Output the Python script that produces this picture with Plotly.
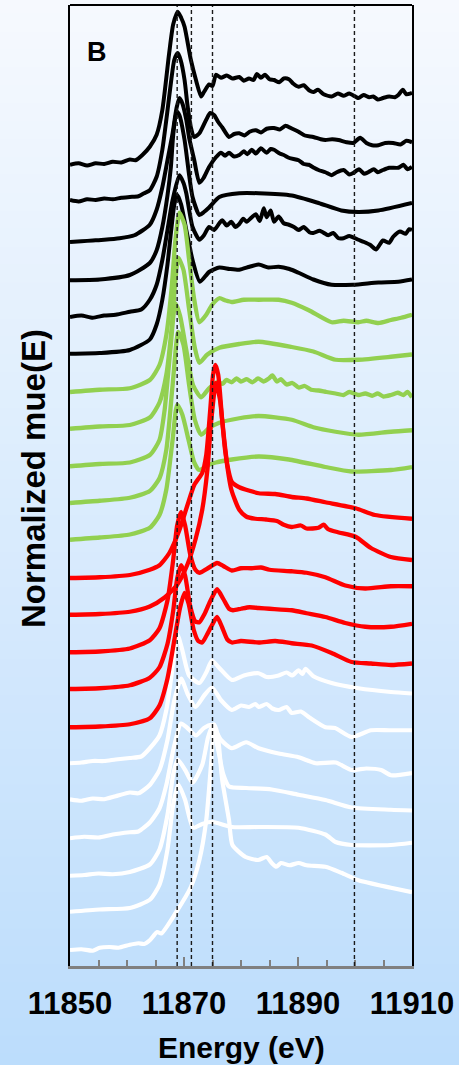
import plotly.graph_objects as go

# ---------------- data ----------------
# Each spectrum: (energy in eV, normalized mu(E)); stacked with a vertical offset.
K1 = [(11850,0.00),(11851.5,0.02),(11853,-0.01),(11854.5,0.02),(11856,0.01),(11857.5,0.04),(11859,0.03),
      (11860.5,0.07),(11861.5,0.06),(11862.7,0.13),(11864.0,0.24),(11865.2,0.40),(11866.2,0.73),(11867.4,1.49),
      (11868.1,1.87),(11868.9,2.04),(11869.5,1.96),(11870.1,1.84),(11871.2,1.40),(11872.1,1.13),(11873.0,0.91),
      (11873.5,0.97),(11874.4,1.07),(11875.0,1.05),(11875.6,1.20),(11876.5,1.16),(11877.5,1.19),(11878.5,1.15),
      (11879.7,1.17),(11880.5,1.12),(11881.4,1.15),(11882.2,1.13),(11882.8,1.21),(11883.5,1.16),(11884.2,1.20),
      (11885.0,1.14),(11885.8,1.13),(11886.7,1.10),(11887.5,1.15),(11888.4,1.14),(11889.2,1.08),(11890.1,1.04),
      (11891.0,1.06),(11892.0,0.99),(11892.7,0.97),(11893.5,1.00),(11894.5,0.94),(11895.9,0.91),(11897.0,0.95),
      (11898.0,0.92),(11899.0,0.95),(11900.6,0.89),(11901.5,0.93),(11902.5,0.90),(11903.2,0.91),(11904.0,0.87),
      (11904.9,0.89),(11906.0,0.91),(11907.0,0.90),(11907.6,0.93),(11908.4,1.00),(11909.0,0.94),(11910,0.96)]
K2 = [(11850,0.00),(11851.5,-0.02),(11853,0.01),(11854.5,0.00),(11856,0.02),(11857.5,0.01),(11859,0.03),
      (11860.5,0.04),(11862,0.05),(11863,0.09),(11864.0,0.13),(11865.2,0.31),(11866.2,0.67),(11867.0,1.13),
      (11867.7,1.56),(11868.3,1.87),(11868.9,1.96),(11869.4,1.87),(11870.1,1.60),(11870.6,1.27),(11871.2,0.97),
      (11871.8,0.84),(11872.7,0.89),(11873.9,1.07),(11874.6,1.16),(11875.3,1.13),(11876.0,1.04),(11876.7,0.97),
      (11877.9,0.84),(11878.8,0.88),(11879.7,0.89),(11880.6,0.86),(11881.5,0.91),(11882.6,0.93),(11883.5,0.90),
      (11884.5,0.95),(11885.8,0.96),(11886.8,0.94),(11887.8,0.99),(11889.0,0.95),(11890.1,0.91),(11891.2,0.86),
      (11892.7,0.84),(11894.0,0.81),(11894.8,0.80),(11896.0,0.81),(11897.1,0.80),(11898.5,0.77),(11899.7,0.76),
      (11900.9,0.83),(11902.0,0.76),(11903.0,0.73),(11904.1,0.73),(11905.3,0.76),(11906.7,0.76),(11908.0,0.74),
      (11909.0,0.79),(11910,0.77)]
K3 = [(11850,0.00),(11852,0.01),(11854,0.02),(11856,0.03),(11858.7,0.05),(11861.3,0.09),(11864.0,0.23),
      (11865.2,0.43),(11866.2,0.73),(11867.1,1.09),(11868.0,1.45),(11868.7,1.79),(11869.2,1.92),(11869.7,1.85),
      (11870.4,1.63),(11870.9,1.39),(11871.8,1.09),(11872.7,0.79),(11873.4,0.85),(11874.4,1.00),(11875.6,1.13),
      (11876.5,1.19),(11877.2,1.15),(11877.9,1.19),(11878.8,1.14),(11879.7,1.16),(11880.5,1.21),(11881.1,1.17),
      (11881.9,1.23),(11882.6,1.18),(11883.5,1.25),(11884.5,1.19),(11885.2,1.24),(11885.8,1.23),(11886.8,1.18),
      (11887.5,1.16),(11888.5,1.12),(11890.1,1.09),(11891.0,1.04),(11891.9,1.03),(11892.8,0.99),(11893.6,0.96),
      (11894.8,0.93),(11895.9,0.89),(11896.8,0.93),(11898.0,0.96),(11899.0,0.90),(11899.7,0.92),(11900.7,0.97),
      (11901.6,0.91),(11902.3,0.93),(11903.3,0.97),(11904.0,0.93),(11904.9,0.96),(11906.0,0.99),(11907.6,0.99),
      (11908.5,1.03),(11909.2,0.97),(11910,1.00)]
K4 = [(11850,0.00),(11855.2,0.01),(11860.5,0.07),(11864.0,0.23),(11865.2,0.40),(11866.2,0.71),(11867.1,1.13),
      (11867.7,1.51),(11868.1,1.93),(11868.7,2.25),(11869.2,2.20),(11870.1,1.87),(11870.9,1.40),(11871.5,1.11),
      (11872.7,0.87),(11873.5,0.91),(11874.4,0.97),(11876.2,1.11),(11879.7,1.16),(11883.1,1.16),(11888.9,1.13),
      (11893.6,1.03),(11897.6,0.93),(11900.6,0.91),(11904.1,0.93),(11910,1.03)]
K5 = [(11850,0.00),(11852,0.02),(11854,-0.01),(11856,0.02),(11858,0.03),(11860.5,0.07),(11862.5,0.10),
      (11864.0,0.23),(11865.2,0.43),(11866.2,0.76),(11867.1,1.16),(11868.0,1.56),(11869.2,1.89),(11869.9,1.79),
      (11870.4,1.65),(11871.5,1.20),(11872.7,1.03),(11873.5,1.09),(11874.4,1.20),(11875.3,1.16),(11876.2,1.25),
      (11876.7,1.29),(11877.5,1.22),(11878.3,1.27),(11879.0,1.20),(11879.7,1.24),(11880.4,1.31),(11881.0,1.27),
      (11881.9,1.33),(11882.6,1.37),(11883.3,1.28),(11884.0,1.45),(11884.5,1.33),(11885.2,1.42),(11885.8,1.27),
      (11886.6,1.34),(11887.5,1.25),(11888.4,1.23),(11889.3,1.20),(11890.1,1.16),(11891.0,1.20),(11892.0,1.13),
      (11892.7,1.12),(11893.8,1.15),(11895.3,1.09),(11896.2,1.12),(11897.1,1.05),(11898.0,1.05),(11899.0,1.08),
      (11900.6,1.03),(11901.6,1.00),(11902.7,0.96),(11903.7,0.90),(11904.9,1.02),(11906.0,0.99),(11906.7,1.07),
      (11907.9,1.14),(11908.9,1.11),(11909.5,1.17),(11910,1.16)]
K6 = [(11850,0.00),(11855.2,0.01),(11860.5,0.05),(11864.0,0.19),(11865.2,0.39),(11866.2,0.72),(11867.1,1.19),
      (11867.7,1.61),(11868.3,1.99),(11868.8,2.12),(11869.5,1.99),(11870.4,1.65),(11871.5,1.25),(11872.8,0.96),
      (11874.4,1.09),(11876.2,1.15),(11878.0,1.13),(11879.7,1.12),(11881.5,1.16),(11883.1,1.19),(11884.8,1.15),
      (11886.6,1.16),(11888.5,1.13),(11890.1,1.08),(11892.7,0.99),(11895.9,0.92),(11899.7,0.92),(11904.1,0.95),
      (11907.6,0.96),(11910,0.99)]

G1 = [(11850,0.00),(11855.2,0.03),(11860.5,0.05),(11864.0,0.16),(11865.7,0.36),(11866.9,0.76),(11867.8,1.36),
      (11868.5,2.03),(11869.2,2.39),(11870.1,2.23),(11870.9,1.76),(11871.8,1.23),(11872.7,0.93),(11873.9,1.03),
      (11874.9,1.16),(11876.2,1.25),(11877.3,1.22),(11878.4,1.20),(11880.5,1.23),(11883.1,1.23),(11886.6,1.23),
      (11888.9,1.19),(11891.9,1.09),(11895.9,0.93),(11898.0,0.95),(11900.6,0.93),(11902.0,0.95),(11904.1,0.92),
      (11906.3,0.96),(11908.1,0.99),(11910,1.03)]
G2 = [(11850,0.00),(11855.2,0.03),(11860.5,0.05),(11864.0,0.15),(11865.7,0.35),(11866.9,0.72),(11867.8,1.32),
      (11868.5,1.99),(11869.0,2.28),(11869.9,2.12),(11870.9,1.59),(11871.9,1.08),(11872.7,0.88),(11874.1,0.99),
      (11876.2,1.08),(11879.7,1.13),(11883.1,1.16),(11888.9,1.09),(11892.7,1.03),(11896.6,0.92),(11900.6,0.92),
      (11906.3,0.96),(11910,0.99)]
G3 = [(11850,0.00),(11855.2,0.03),(11860.5,0.05),(11864.0,0.15),(11865.7,0.35),(11866.6,0.75),(11867.6,1.55),
      (11868.5,2.17),(11869.3,2.01),(11870.4,1.55),(11871.6,1.08),(11873.0,0.92),(11874.4,1.04),(11875.8,1.12),
      (11876.8,1.10),(11877.4,1.15),(11878.4,1.12),(11879.2,1.17),(11880.0,1.13),(11881.0,1.16),(11882.0,1.12),
      (11883.0,1.17),(11884.0,1.13),(11884.9,1.17),(11885.5,1.21),(11886.3,1.13),(11887.0,1.16),(11888.0,1.09),
      (11889.0,1.11),(11890.1,1.05),(11891.2,1.07),(11892.3,1.02),(11893.6,1.01),(11895.0,0.99),(11896.6,0.97),
      (11898.0,0.95),(11899.0,0.99),(11900.6,0.95),(11901.8,0.97),(11903.0,0.94),(11904.0,0.97),(11905.0,0.93),
      (11906.3,0.95),(11907.5,0.98),(11908.5,0.95),(11909.2,0.99),(11910,0.92)]
G4 = [(11850,0.00),(11855.2,0.03),(11860.5,0.07),(11864.0,0.16),(11865.7,0.33),(11866.9,0.71),(11868.0,1.57),
      (11869.0,2.28),(11869.9,2.11),(11870.9,1.57),(11871.9,1.11),(11873.0,0.91),(11874.4,1.00),(11876.2,1.07),
      (11879.7,1.13),(11883.1,1.16),(11888.9,1.11),(11892.7,1.01),(11896.6,0.95),(11900.6,0.91),(11906.3,0.95),
      (11910,0.97)]
G5 = [(11850,0.00),(11855.2,0.03),(11860.5,0.07),(11864.0,0.16),(11865.7,0.33),(11866.9,0.67),(11868.0,1.33),
      (11868.8,1.80),(11869.7,1.67),(11870.8,1.33),(11871.8,1.03),(11872.7,0.93),(11874.4,1.00),(11875.6,1.03),
      (11878.4,1.07),(11883.1,1.11),(11888.4,1.07),(11894.8,0.97),(11899.4,0.91),(11906.3,0.93),(11910,0.97)]

R1 = [(11850,0.00),(11855.2,0.01),(11860.5,0.04),(11864.0,0.11),(11865.7,0.17),(11867.4,0.33),(11869.2,0.64),
      (11870.6,0.97),(11871.8,1.24),(11873.2,1.40),(11873.9,1.64),(11874.6,2.24),(11875.1,2.71),(11875.5,2.84),
      (11876.0,2.71),(11876.7,2.11),(11877.6,1.51),(11878.4,1.28),(11879.7,1.21),(11883.1,1.13),(11886.0,1.12),
      (11888.9,1.08),(11891.5,1.06),(11894.8,1.01),(11900.1,0.93),(11903.5,0.84),(11910,0.79)]
R2 = [(11850,0.00),(11855.2,0.01),(11860.5,0.04),(11864.0,0.11),(11866.6,0.23),(11868.8,0.40),(11870.6,0.67),
      (11872.0,1.00),(11873.2,1.40),(11874.1,1.93),(11874.8,2.60),(11875.6,3.09),(11876.3,2.87),(11877.2,2.20),
      (11878.3,1.67),(11879.7,1.40),(11880.9,1.31),(11882.5,1.28),(11884.4,1.27),(11886.3,1.25),(11887.5,1.20),
      (11888.9,1.17),(11890.5,1.19),(11891.5,1.15),(11893.6,1.16),(11894.5,1.20),(11895.3,1.14),(11897.0,1.10),
      (11900.1,1.04),(11902.8,0.89),(11906.3,0.77),(11910,0.73)]
R3 = [(11850,0.00),(11855.2,0.01),(11860.5,0.05),(11864.0,0.16),(11865.7,0.32),(11867.1,0.69),(11868.1,1.23),
      (11868.8,1.69),(11869.5,1.87),(11870.2,1.69),(11871.1,1.30),(11872.0,1.10),(11872.7,1.06),(11874.4,1.13),
      (11875.8,1.19),(11876.9,1.15),(11878.4,1.09),(11880.0,1.12),(11881.9,1.12),(11883.5,1.13),(11885.0,1.10),
      (11888.9,1.08),(11891.5,1.06),(11894.8,1.00),(11898.3,0.89),(11901.8,0.85),(11906.3,0.88),(11910,0.88)]
R4 = [(11850,0.00),(11855.2,0.01),(11860.5,0.05),(11864.0,0.15),(11865.7,0.29),(11867.1,0.60),(11868.1,1.04),
      (11868.8,1.47),(11869.5,1.65),(11870.2,1.51),(11871.1,1.10),(11872.0,0.90),(11872.7,0.89),(11873.6,1.00),
      (11874.6,1.17),(11875.8,1.33),(11876.9,1.20),(11877.9,1.07),(11878.6,1.05),(11880.0,1.07),(11881.5,1.09),
      (11883.1,1.08),(11885.0,1.07),(11888.9,1.05),(11891.5,1.01),(11894.8,0.96),(11898.3,0.88),(11901.8,0.83),
      (11906.3,0.83),(11910,0.87)]
R5 = [(11850,0.00),(11855.2,0.01),(11860.5,0.04),(11864.0,0.12),(11865.7,0.29),(11867.1,0.65),(11868.3,1.16),
      (11869.3,1.59),(11870.1,1.79),(11870.8,1.65),(11871.7,1.30),(11872.5,1.15),(11873.2,1.13),(11874.0,1.23),
      (11874.9,1.36),(11875.8,1.47),(11876.7,1.33),(11877.6,1.17),(11878.4,1.13),(11880.0,1.15),(11883.1,1.13),
      (11886.0,1.15),(11888.9,1.12),(11892.4,1.09),(11895.9,0.99),(11899.4,0.87),(11902.8,0.85),(11906.3,0.83),
      (11910,0.85)]

W1 = [(11850,0.00),(11852,0.01),(11854,0.03),(11856,0.03),(11858,0.05),(11860.5,0.07),(11862.5,0.09),
      (11864.0,0.20),(11865.7,0.37),(11866.9,0.71),(11867.8,1.17),(11868.6,1.64),(11868.9,1.71),(11869.7,1.51),
      (11870.9,1.17),(11872.7,1.07),(11873.9,1.21),(11874.9,1.37),(11876.2,1.27),(11878.4,1.11),(11880.5,1.17),
      (11883.1,1.20),(11884.5,1.15),(11886.6,1.17),(11888.0,1.21),(11889.0,1.17),(11890.1,1.24),(11890.8,1.19),
      (11891.3,1.26),(11892.7,1.16),(11895.9,1.07),(11900.6,1.00),(11906.3,0.95),(11910,0.93)]
W2 = [(11850,0.00),(11852,-0.02),(11854,0.01),(11856,0.00),(11858,0.04),(11860.5,0.09),(11862,0.08),
      (11864.0,0.19),(11865.7,0.39),(11867.1,0.79),(11868.3,1.32),(11869.5,1.61),(11870.6,1.41),(11872.0,1.23),
      (11873.6,1.39),(11874.9,1.49),(11876.5,1.32),(11878.4,1.19),(11880.0,1.25),(11881.4,1.23),(11882.5,1.27),
      (11883.1,1.23),(11884.5,1.27),(11885.5,1.21),(11886.6,1.19),(11888.0,1.23),(11888.9,1.15),(11890.5,1.17),
      (11892.0,1.09),(11894.8,0.96),(11896.5,0.95),(11899.4,0.83),(11902.8,0.92),(11906.0,0.92),(11910,0.92)]
W3 = [(11850,0.00),(11852.5,0.02),(11855,0.01),(11857.5,0.05),(11860.5,0.08),(11862,0.09),(11864.0,0.21),
      (11865.7,0.40),(11866.9,0.71),(11868.3,1.24),(11869.5,1.53),(11870.6,1.47),(11872.1,1.37),(11873.5,1.47),
      (11874.9,1.51),(11876.5,1.31),(11878.4,1.20),(11880.9,1.28),(11883.1,1.20),(11886.6,1.13),(11890.1,1.08),
      (11893.1,1.00),(11896.6,1.01),(11899.4,0.91),(11902.0,0.93),(11904.6,0.91),(11906.3,0.84),(11910,0.87)]
W4 = [(11850,0.00),(11852.5,0.01),(11855,0.03),(11857.5,0.02),(11860.5,0.05),(11864.0,0.15),(11865.7,0.35),
      (11867.1,0.81),(11868.1,1.35),(11868.9,1.55),(11870.2,1.41),(11871.5,1.24),(11873.2,1.48),(11874.2,1.84),
      (11874.9,1.99),(11875.8,1.75),(11876.9,1.35),(11877.9,1.19),(11880.9,1.17),(11885.4,1.15),(11890.1,1.08),
      (11894.8,1.01),(11899.4,0.91),(11906.3,0.88),(11910,0.87)]
W5 = [(11850,0.00),(11855.2,0.03),(11860.5,0.05),(11864.0,0.16),(11865.7,0.36),(11867.1,0.83),(11868.1,1.43),
      (11869.0,1.70),(11870.2,1.49),(11871.6,1.12),(11873.2,1.17),(11874.9,1.20),(11878.4,1.13),(11883.1,1.13),
      (11890.1,1.12),(11894.8,1.03),(11896.6,0.93),(11899.4,0.89),(11906.3,0.89),(11910,0.92)]
W6 = [(11850,0.00),(11852,0.01),(11854,-0.01),(11855.2,0.03),(11857,0.04),(11858.5,0.03),(11860.5,0.07),
      (11862,0.09),(11863,0.08),(11864.0,0.13),(11865.3,0.24),(11866,0.22),(11868.5,0.49),(11871.2,0.84),
      (11872.7,1.20),(11873.9,1.73),(11874.8,2.53),(11875.3,3.01),(11875.9,2.87),(11876.7,2.27),(11877.9,1.73),
      (11878.5,1.40),(11880.8,1.24),(11883.0,1.20),(11884.5,1.24),(11885.4,1.16),(11886.2,1.11),(11887.0,1.16),
      (11888.5,1.13),(11890.1,1.16),(11891.5,1.13),(11894.8,1.11),(11897.6,1.03),(11900.6,0.93),(11906.3,0.83),
      (11910,0.77)]

# vertical stacking offsets (normalized units) of each spectrum
OFFSETS = {"K1": 10.47, "K2": 10.0, "K3": 9.44, "K4": 8.93, "K5": 8.44, "K6": 7.95,
           "G1": 7.44, "G2": 6.95, "G3": 6.45, "G4": 5.96, "G5": 5.47,
           "R1": 4.96, "R2": 4.47, "R3": 3.97, "R4": 3.48, "R5": 2.97,
           "W1": 2.49, "W2": 2.01, "W3": 1.49, "W4": 0.99, "W5": 0.51, "W6": 0.0}

# reference energies marked by dashed lines (eV)
REF_LINES = [11868.8, 11871.3, 11875.0, 11899.9]
X_TICKS = [11850, 11870, 11890, 11910]

# ---------------- figure ----------------
groups = [
    ("#ffffff", 4.2, [("W1", W1), ("W2", W2), ("W3", W3), ("W4", W4), ("W5", W5), ("W6", W6)]),
    ("#000000", 4.0, [("K1", K1), ("K2", K2), ("K3", K3), ("K4", K4), ("K5", K5), ("K6", K6)]),
    ("#92d050", 4.3, [("G1", G1), ("G2", G2), ("G3", G3), ("G4", G4), ("G5", G5)]),
    ("#ff0000", 4.3, [("R1", R1), ("R2", R2), ("R3", R3), ("R4", R4), ("R5", R5)]),
]

fig = go.Figure()
for color, lw, series in groups:
    for name, pts in series:
        xs = [p[0] for p in pts]
        ys = [p[1] + OFFSETS[name] for p in pts]
        fig.add_trace(go.Scatter(x=xs, y=ys, mode="lines", name=name,
                                 line=dict(color=color, width=lw, shape="spline", smoothing=0.6),
                                 showlegend=False, hoverinfo="skip"))

# background gradient (paper coordinates)
top_c = (246, 249, 254)
bot_c = (188, 221, 252)
nb = 60
y_lo, y_hi = -0.11, 1.01
shapes = []
for i in range(nb):
    t = i / (nb - 1)
    c = tuple(round(bot_c[k] + (top_c[k] - bot_c[k]) * t) for k in range(3))
    y0 = y_lo + (y_hi - y_lo) * i / nb
    y1 = y_lo + (y_hi - y_lo) * (i + 1) / nb + 0.002
    shapes.append(dict(type="rect", xref="paper", yref="paper", x0=-0.3, x1=1.3, y0=y0, y1=y1,
                       fillcolor="rgb(%d,%d,%d)" % c, line=dict(width=0), layer="below"))
for e in REF_LINES:
    shapes.append(dict(type="line", xref="x", yref="paper", x0=e, x1=e, y0=0, y1=1,
                       line=dict(color="#1a1a1a", width=1.4, dash="4px,3px"), layer="above"))
shapes.append(dict(type="line", xref="paper", yref="paper", x0=0, x1=1, y0=1, y1=1,
                   line=dict(color="#000000", width=2), layer="above"))

font_family = "Arial, Liberation Sans, sans-serif"
fig.update_layout(
    width=459, height=1065,
    margin=dict(l=70, r=45, t=5, b=99),
    paper_bgcolor="rgb(220,235,252)",
    plot_bgcolor="rgba(0,0,0,0)",
    shapes=shapes,
    xaxis=dict(range=[11850, 11910], tickmode="array", tickvals=X_TICKS,
               ticktext=[str(v) for v in X_TICKS],
               tickfont=dict(family=font_family, size=31, color="#000000", weight="bold"),
               ticks="inside", ticklen=9, tickwidth=2, tickcolor="#808080",
               minor=dict(dtick=5, tick0=11850, ticks="inside", ticklen=6, tickwidth=2,
                          tickcolor="#808080", showgrid=False),
               showline=True, linecolor="#808080", linewidth=3,
               showgrid=False, zeroline=False, ticklabelstandoff=8),
    yaxis=dict(range=[-0.2133, 12.6], showticklabels=False, ticks="", showgrid=False,
               zeroline=False, showline=True, mirror=True, linecolor="#000000", linewidth=2),
    annotations=[
        dict(text="B", xref="paper", yref="paper", x=0.0785, y=0.951, showarrow=False,
             xanchor="center", yanchor="middle",
             font=dict(family=font_family, size=27, color="#000000", weight="bold")),
        dict(text="Normalized mue(E)", xref="paper", yref="paper", x=-0.1047, y=0.507,
             textangle=-90, showarrow=False, xanchor="center", yanchor="middle",
             font=dict(family=font_family, size=33, color="#000000", weight="bold")),
        dict(text="Energy (eV)", xref="paper", yref="paper", x=0.5, y=-0.0853,
             showarrow=False, xanchor="center", yanchor="middle",
             font=dict(family=font_family, size=30, color="#000000", weight="bold")),
    ],
)

fig.write_html("out.html", config={"displayModeBar": False},
               post_script="document.body.style.margin='0';document.body.style.overflow='hidden';")
